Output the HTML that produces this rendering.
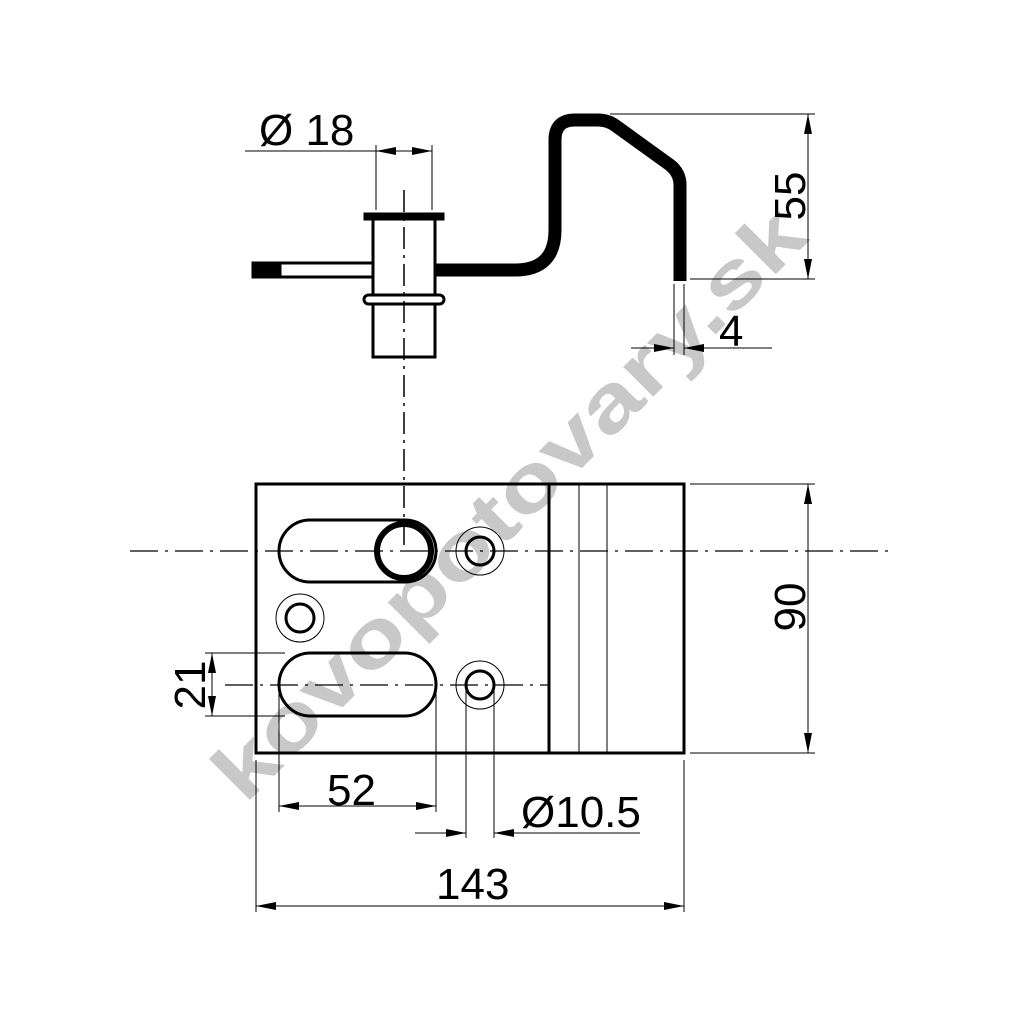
<!DOCTYPE html>
<html><head><meta charset="utf-8"><style>html,body{margin:0;padding:0;background:#fff}</style></head>
<body>
<svg width="1024" height="1024" viewBox="0 0 1024 1024" xmlns="http://www.w3.org/2000/svg" font-family="Liberation Sans, sans-serif">
<defs>
<marker id="a" viewBox="0 0 20 8" refX="20" refY="4" markerWidth="20" markerHeight="8" markerUnits="userSpaceOnUse" orient="auto"><path d="M0,0 L20,4 L0,8 z" fill="#000"/></marker>
</defs>
<rect width="1024" height="1024" fill="#fff"/>
<text x="0" y="0" transform="translate(245,805) rotate(-45)" font-size="80" font-weight="bold" fill="#c8c8c8" textLength="800" lengthAdjust="spacingAndGlyphs">kovopotovary.sk</text>

<g fill="none" stroke="#000">
<rect x="373" y="218" width="62" height="139" stroke-width="3"/>
<rect x="364" y="213" width="80" height="7" fill="#000" stroke-width="1"/>
<rect x="364" y="295" width="80" height="9" rx="4.5" fill="#fff" stroke-width="3"/>
<rect x="253" y="263" width="120" height="14" fill="#fff" stroke-width="3"/>
<rect x="253" y="263" width="28" height="14" fill="#000" stroke-width="1"/>
<path d="M435 270 L515 270 Q555 270 555 230 L555 140 Q555 120 575 120 L598 120 Q608 120 616 126 L670 165 Q680 173 680 185 L680 281" stroke-width="13"/>
<path d="M404 190 L404 550" stroke-width="1.5" stroke-dasharray="22,6,3,6"/>
<rect x="256" y="484" width="428" height="269" stroke-width="3"/>
<line x1="549" y1="484" x2="549" y2="753" stroke-width="3"/>
<line x1="579" y1="484" x2="579" y2="753" stroke-width="1"/>
<line x1="607" y1="484" x2="607" y2="753" stroke-width="1"/>
<rect x="279" y="520" width="157" height="62" rx="31" stroke-width="3"/>
<rect x="279" y="653" width="157" height="63" rx="31.5" stroke-width="3"/>
<circle cx="404" cy="551" r="27" stroke-width="6"/>
<circle cx="480" cy="551" r="14" stroke-width="3"/><circle cx="480" cy="551" r="24" stroke-width="1"/>
<circle cx="300" cy="618" r="14" stroke-width="3"/><circle cx="300" cy="618" r="24" stroke-width="1"/>
<circle cx="480" cy="685" r="14" stroke-width="3"/><circle cx="480" cy="685" r="24" stroke-width="1"/>
<path d="M130 551 L890 551" stroke-width="1.2" stroke-dasharray="28,7,3,7"/>
<path d="M225 685 L549 685" stroke-width="1.2" stroke-dasharray="28,7,3,7"/>

<g stroke-width="1">
<line x1="376" y1="145" x2="376" y2="210"/><line x1="432" y1="145" x2="432" y2="210"/>
<line x1="245" y1="151" x2="376" y2="151"/>
<line x1="404" y1="151" x2="376" y2="151" marker-end="url(#a)"/>
<line x1="404" y1="151" x2="432" y2="151" marker-end="url(#a)"/>
<line x1="610" y1="114" x2="815" y2="114"/><line x1="690" y1="279" x2="815" y2="279"/>
<line x1="808" y1="200" x2="808" y2="114" marker-end="url(#a)"/>
<line x1="808" y1="200" x2="808" y2="279" marker-end="url(#a)"/>
<line x1="674" y1="284" x2="674" y2="355"/><line x1="684" y1="284" x2="684" y2="355"/>
<line x1="631" y1="348" x2="674" y2="348" marker-end="url(#a)"/>
<line x1="772" y1="348" x2="684" y2="348" marker-end="url(#a)"/>
<line x1="690" y1="484" x2="815" y2="484"/><line x1="690" y1="753" x2="815" y2="753"/>
<line x1="808" y1="620" x2="808" y2="484" marker-end="url(#a)"/>
<line x1="808" y1="620" x2="808" y2="753" marker-end="url(#a)"/>
<line x1="205" y1="653" x2="285" y2="653"/><line x1="205" y1="716" x2="285" y2="716"/>
<line x1="212" y1="685" x2="212" y2="653" marker-end="url(#a)"/>
<line x1="212" y1="685" x2="212" y2="716" marker-end="url(#a)"/>
<line x1="279" y1="685" x2="279" y2="812"/><line x1="436" y1="685" x2="436" y2="812"/>
<line x1="357" y1="806" x2="279" y2="806" marker-end="url(#a)"/>
<line x1="357" y1="806" x2="436" y2="806" marker-end="url(#a)"/>
<line x1="466" y1="685" x2="466" y2="838"/><line x1="494" y1="685" x2="494" y2="838"/>
<line x1="415" y1="833" x2="466" y2="833" marker-end="url(#a)"/>
<line x1="640" y1="833" x2="494" y2="833" marker-end="url(#a)"/>
<line x1="256" y1="760" x2="256" y2="912"/><line x1="684" y1="760" x2="684" y2="912"/>
<line x1="470" y1="906" x2="256" y2="906" marker-end="url(#a)"/>
<line x1="470" y1="906" x2="684" y2="906" marker-end="url(#a)"/>
</g>
</g>
<g font-size="44" fill="#000">
<text x="259" y="145">Ø 18</text>
<text x="719" y="346">4</text>
<text x="327" y="805">52</text>
<text x="521" y="827">Ø10.5</text>
<text x="436" y="899">143</text>
<text transform="translate(805,196) rotate(-90)" text-anchor="middle">55</text>
<text transform="translate(805,607) rotate(-90)" text-anchor="middle">90</text>
<text transform="translate(205,685) rotate(-90)" text-anchor="middle">21</text>
</g>
</svg>
</body></html>
